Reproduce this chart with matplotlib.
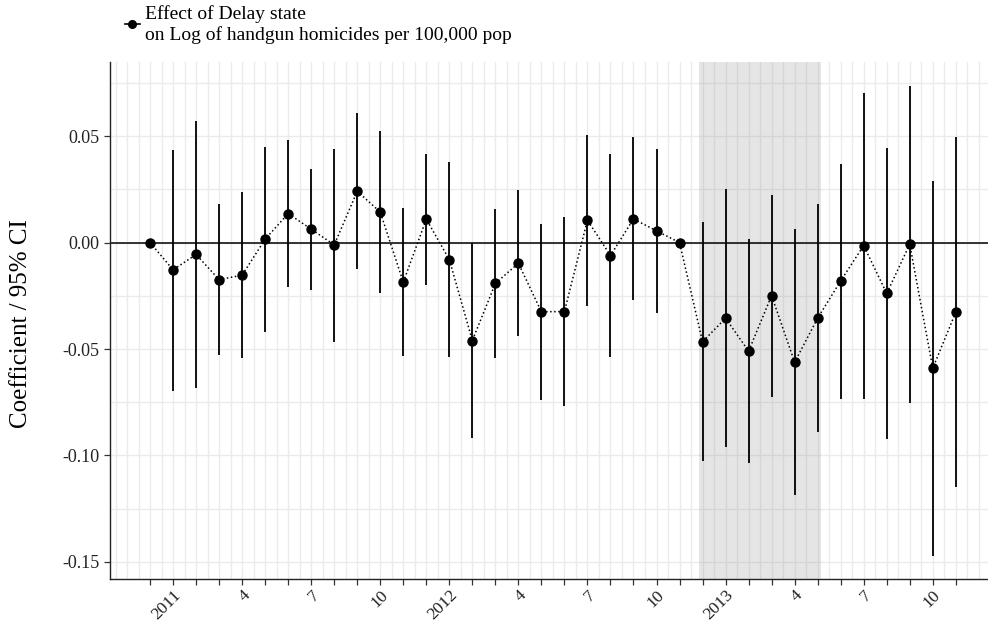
"""
Event-study style coefficient plot: effect of Delay state on log handgun homicides
"""

import numpy as np
import pandas as pd
import matplotlib.pyplot as plt
from matplotlib.lines import Line2D

# monthly periods, Dec 2010 .. Nov 2013
months = pd.date_range("2010-12-01", "2013-11-01", freq="MS")

coef = [0.0, -0.0128, -0.0056, -0.0174, -0.0153, 0.0016, 0.0136, 0.0063, -0.0011, 0.0241,
        0.0143, -0.0186, 0.0110, -0.0080, -0.0460, -0.0192, -0.0097, -0.0325, -0.0324, 0.0105,
        -0.0061, 0.0111, 0.0055, 0.0, -0.0466, -0.0355, -0.0510, -0.0249, -0.0562, -0.0355,
        -0.0180, -0.0014, -0.0239, -0.0008, -0.0590, -0.0327]
ci_low = [np.nan, -0.0695, -0.0685, -0.0527, -0.0544, -0.0419, -0.0211, -0.0221, -0.0465, -0.0125,
          -0.0238, -0.0533, -0.0200, -0.0538, -0.0918, -0.0544, -0.0441, -0.0738, -0.0768, -0.0296,
          -0.0538, -0.0272, -0.0331, np.nan, -0.1028, -0.0961, -0.1036, -0.0723, -0.1186, -0.0890,
          -0.0734, -0.0734, -0.0923, -0.0753, -0.1470, -0.1149]
ci_high = [np.nan, 0.0435, 0.0570, 0.0180, 0.0238, 0.0448, 0.0482, 0.0345, 0.0438, 0.0607,
           0.0524, 0.0163, 0.0418, 0.0379, 0.0000, 0.0158, 0.0246, 0.0088, 0.0121, 0.0506,
           0.0415, 0.0495, 0.0440, np.nan, 0.0096, 0.0250, 0.0016, 0.0222, 0.0063, 0.0180,
           0.0371, 0.0703, 0.0443, 0.0734, 0.0288, 0.0496]

# shaded window (first and last month)
shade_months = ("2012-12-01", "2013-05-01")

y_ticks = [-0.15, -0.10, -0.05, 0.00, 0.05]
legend_label = "Effect of Delay state\non Log of handgun homicides per 100,000 pop"

plt.rcParams['font.family'] = ['Liberation Serif', 'DejaVu Serif']

fig = plt.figure(figsize=(9.88, 6.22), dpi=100)
ax = fig.add_axes([110 / 988, 1 - 579 / 622, 1 - 110 / 988, (579 - 62) / 622])

x = np.arange(len(months))
coef = np.array(coef)
lo = np.array(ci_low)
hi = np.array(ci_high)

# grid: every half month, every 0.025
for gx in np.arange(-1.5, len(months) + 1, 0.5):
    ax.axvline(gx, color='#EBEBEB', lw=1.0, zorder=0)
for gy in np.arange(-0.15, 0.0876, 0.025):
    ax.axhline(gy, color='#EBEBEB', lw=1.0, zorder=0)

s0 = months.get_loc(pd.Timestamp(shade_months[0]))
s1 = months.get_loc(pd.Timestamp(shade_months[1]))
ax.axvspan(s0 - 0.15, s1 + 0.15, color='#7f7f7f', alpha=0.2, lw=0, zorder=1)

ax.axhline(0, color='black', lw=1.1, zorder=2)

ok = ~np.isnan(lo)
ax.vlines(x[ok], lo[ok], hi[ok], color='black', lw=1.3, zorder=3)
ax.plot(x, coef, color='black', ls=':', lw=1.1, zorder=3)
ax.plot(x, coef, 'o', color='black', ms=6.5, zorder=4)

ax.set_xlim(-1.74, 36.4)
ax.set_ylim(-0.158, 0.0848)

# monthly ticks, labels every 3 months
ax.set_xticks(x)
labels = []
for m in months:
    if m.month == 1:
        labels.append(str(m.year))
    elif m.month in (4, 7, 10):
        labels.append(str(m.month))
    else:
        labels.append("")
ax.set_xticklabels(labels, rotation=45, ha='right', rotation_mode='anchor', fontsize=12.5)
ax.set_yticks(y_ticks)
ax.set_yticklabels([f"{v:.2f}" for v in y_ticks], fontsize=13)
ax.tick_params(axis='both', length=4, width=0.9, color='#333333', labelcolor='#222222')
ax.tick_params(axis='x', pad=2)

for side in ('top', 'right'):
    ax.spines[side].set_visible(False)
for side in ('left', 'bottom'):
    ax.spines[side].set_linewidth(1.0)
    ax.spines[side].set_color('#222222')

ax.set_ylabel("Coefficient / 95% CI", fontsize=18)
ax.yaxis.set_label_coords(-0.089, 0.495)

handle = Line2D([], [], color='black', lw=1.2, marker='o', ms=5.5)
fig.legend([handle], [legend_label], loc='upper left', bbox_to_anchor=(113 / 988, 1.01),
           frameon=False, fontsize=14, handlelength=0.8, handletextpad=0.25,
           borderaxespad=0.2, labelspacing=0.2)

fig.savefig("out.png", dpi=100)
